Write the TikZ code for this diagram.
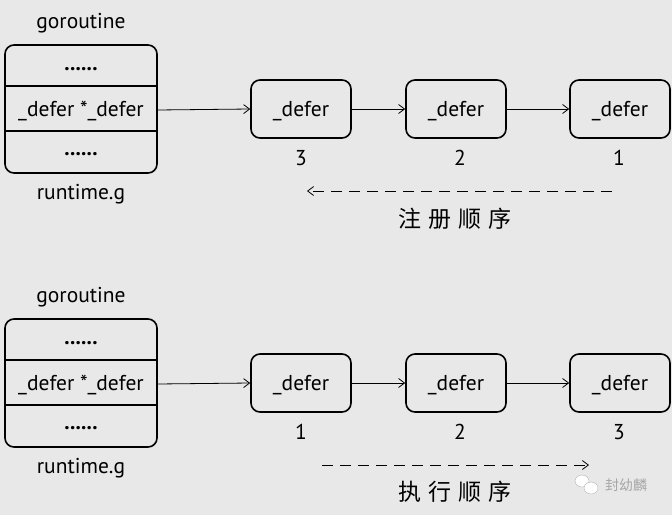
\documentclass[tikz,border=0pt]{standalone}
\usepackage{fontspec}
\setmainfont{PT Sans}
\newfontfamily\cjk{Noto Sans CJK SC}[Scale=1]
\usetikzlibrary{arrows.meta}
\definecolor{bg}{HTML}{E8E8E8}
\tikzset{
  gbox/.style={draw, line width=1.6pt, rounded corners=9pt},
  dbox/.style={draw, line width=1.6pt, rounded corners=9pt, minimum width=100pt, minimum height=58pt, inner sep=0pt, font=\fontsize{21.5}{22}\selectfont},
  lbl/.style={font=\fontsize{21.5}{22}\selectfont, inner sep=0pt},
  link/.style={line width=0.8pt, -{Straight Barb[length=6pt,width=9pt]}},
  order/.style={line width=0.8pt, dash pattern=on 11pt off 7pt, -{Straight Barb[length=6pt,width=9pt]}},
  cjkl/.style={font=\cjk\fontsize{23}{24}\selectfont\addfontfeatures{LetterSpace=30}, inner sep=0pt}
}
\newcommand\dtxt{\raisebox{-7pt}[0pt][0pt]{\_defer}}
\begin{document}
\begin{tikzpicture}[x=1pt,y=-1pt]
\fill[bg] (0,0) rectangle (672,515);
\useasboundingbox (0,0) rectangle (672,515);
\foreach \oy/\n/\a/\b/\c in {0/t/3/2/1, 274/b/1/2/3}{
  \node[lbl] (\n go) at (81,23+\oy) {goroutine};
  \draw[gbox] (5,45+\oy) rectangle (157,173+\oy);
  \coordinate (\n gr) at (157,110+\oy);
  \draw[line width=1.6pt] (5,86+\oy) -- (157,86+\oy);
  \draw[line width=1.6pt] (5,131+\oy) -- (157,131+\oy);
  \node[lbl] (\n d1) at (81,69+\oy) {\textbf{......}};
  \node[lbl] (\n mid) at (81,111+\oy) {\_defer *\_defer};
  \node[lbl] (\n d2) at (81,154+\oy) {\textbf{......}};
  \node[lbl] (\n rt) at (81,194+\oy) {runtime.g};
  \node[dbox] (\n x1) at (301,109+\oy) {\dtxt};
  \node[dbox] (\n x2) at (456,109+\oy) {\dtxt};
  \node[dbox] (\n x3) at (620,109+\oy) {\dtxt};
  \draw[link] (\n gr) -- (\n x1.west);
  \draw[link] (\n x1.east) -- (\n x2.west);
  \draw[link] (\n x2.east) -- (\n x3.west);
  \node[lbl] (\n n1) at (301,158+\oy) {\a};
  \node[lbl] (\n n2) at (460,158+\oy) {\b};
  \node[lbl] (\n n3) at (619,158+\oy) {\c};
}
\coordinate (ta) at (612,191);
\coordinate (tb) at (307,191);
\draw[order] (ta) -- (tb);
\node[cjkl] (treg) at (455,219) {注册顺序};
\coordinate (ba) at (322,465);
\coordinate (bb) at (589,465);
\draw[order] (ba) -- (bb);
\node[cjkl] (bexe) at (455,492) {执行顺序};
% watermark
\fill[white, draw=gray!60, line width=0.4pt] (582,481) ellipse (7pt and 6pt);
\fill[white, draw=gray!60, line width=0.4pt] (591,488) ellipse (7pt and 6pt);
\node[font=\cjk\fontsize{14}{14}\selectfont, text=gray!70, inner sep=0pt] (wm) at (626,485) {封幼麟};
\end{tikzpicture}
\end{document}
